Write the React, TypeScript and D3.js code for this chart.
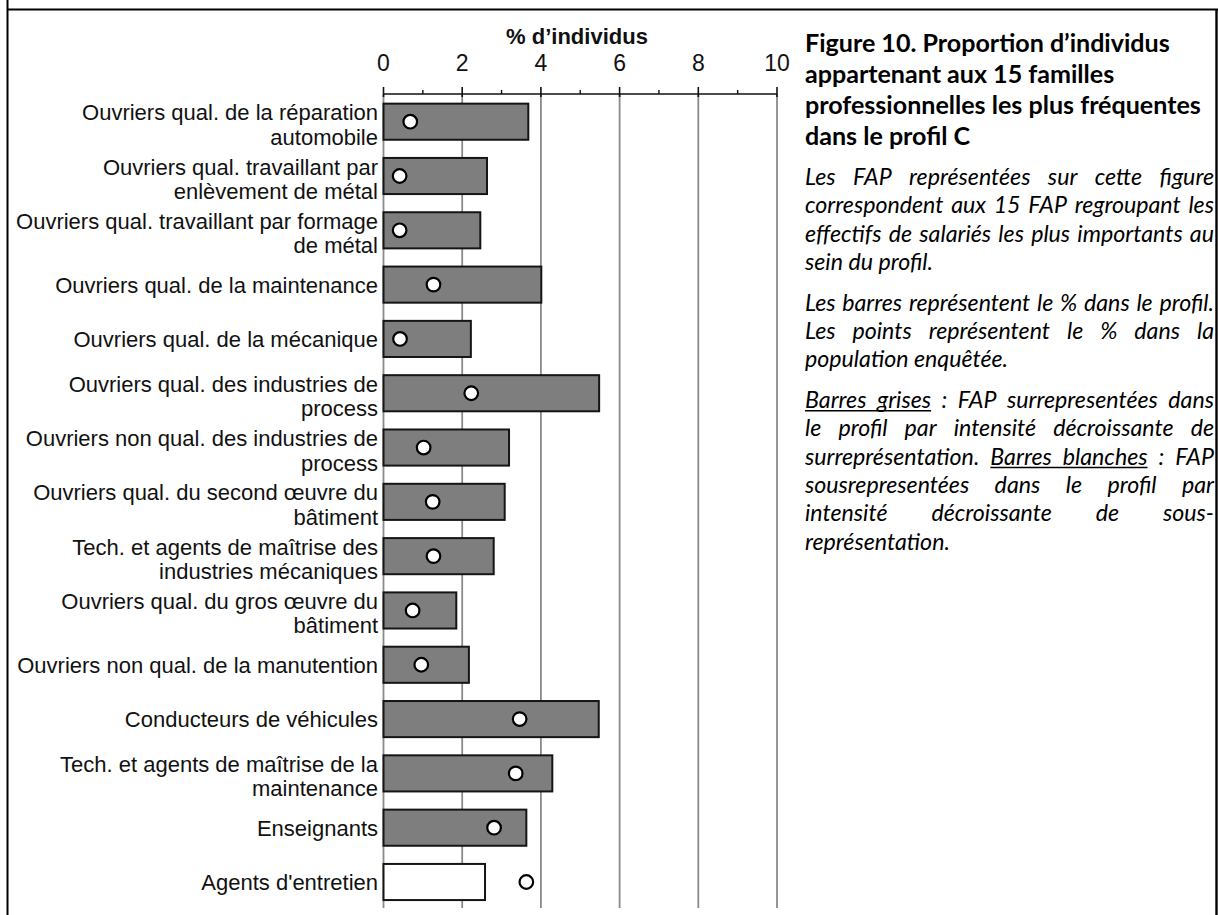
import React, { useMemo } from "react";
import * as d3 from "d3";

// ---------- DATA ----------
const categories: string[] = [
  "Ouvriers qual. de la réparation\nautomobile",
  "Ouvriers qual. travaillant par\nenlèvement de métal",
  "Ouvriers qual. travaillant par formage\nde métal",
  "Ouvriers qual. de la maintenance",
  "Ouvriers qual. de la mécanique",
  "Ouvriers qual. des industries de\nprocess",
  "Ouvriers non qual. des industries de\nprocess",
  "Ouvriers qual. du second œuvre du\nbâtiment",
  "Tech. et agents de maîtrise des\nindustries mécaniques",
  "Ouvriers qual. du gros œuvre du\nbâtiment",
  "Ouvriers non qual. de la manutention",
  "Conducteurs de véhicules",
  "Tech. et agents de maîtrise de la\nmaintenance",
  "Enseignants",
  "Agents d'entretien",
];
const profileShare: number[] = [3.68, 2.63, 2.46, 4.01, 2.22, 5.48, 3.19, 3.08, 2.8, 1.85, 2.17, 5.47, 4.29, 3.63, 2.58];
const populationShare: number[] = [0.68, 0.41, 0.41, 1.27, 0.42, 2.23, 1.02, 1.25, 1.27, 0.74, 0.96, 3.46, 3.36, 2.81, 3.63];
const overRepresented: boolean[] = [true, true, true, true, true, true, true, true, true, true, true, true, true, true, false];
const majorTicks: number[] = [0, 2, 4, 6, 8, 10];
const minorTicks: number[] = [1, 3, 5, 7, 9];
const axisTitle = "% d’individus";

const titleLines: string[] = [
  "Figure 10. Proportion d’individus",
  "appartenant aux 15 familles",
  "professionnelles les plus fréquentes",
  "dans le profil C",
];

type BodyLine = { text: string; justify: boolean; underline?: [number, number][] };
const bodyParagraphs: BodyLine[][] = [
  [
    { text: "Les FAP représentées sur cette figure", justify: true },
    { text: "correspondent aux 15 FAP regroupant les", justify: true },
    { text: "effectifs de salariés les plus importants au", justify: true },
    { text: "sein du profil.", justify: false },
  ],
  [
    { text: "Les barres représentent le % dans le profil.", justify: true },
    { text: "Les points représentent le % dans la", justify: true },
    { text: "population enquêtée.", justify: false },
  ],
  [
    { text: "Barres grises :  FAP surrepresentées dans", justify: true, underline: [[0, 1]] },
    { text: "le profil par intensité décroissante de", justify: true },
    { text: "surreprésentation. Barres blanches : FAP", justify: true, underline: [[1, 2]] },
    { text: "sousrepresentées dans le profil par", justify: true },
    { text: "intensité décroissante de sous-", justify: true },
    { text: "représentation.", justify: false },
  ],
];

// ---------- LAYOUT ----------
const W = 1218;
const H = 915;
const x0 = 383.5;
const x1 = 777;
const axisY = 94;
const firstCenter = 121.7;
const lastCenter = 882;
const gridBottom = 908;
const labelFont = "'Liberation Sans', Arial, Helvetica, sans-serif";
const labelSize = 22;
const textFont = "Lato, 'Open Sans', sans-serif";
const panelLeft = 805;
const panelRight = 1214;

function useMeasure() {
  return useMemo(() => {
    const ctx = document.createElement("canvas").getContext("2d")!;
    return (text: string, font: string) => {
      ctx.font = font;
      return ctx.measureText(text).width;
    };
  }, []);
}

export default function App() {
  const measure = useMeasure();

  const x = d3.scaleLinear().domain([0, 10]).range([x0, x1]);
  const y = d3.scalePoint<string>().domain(categories).range([firstCenter, lastCenter]);
  const step = y.step();
  const barH = step * 0.665;

  // font sizes fitted to the reference widths
  const titleSize = (100 * 396) / measure(titleLines[2], `bold 100px ${textFont}`);
  const bodySize =
    ((100 * 203) / measure("population enquêtée.", `italic 100px ${textFont}`) +
      (100 * 128) / measure("sein du profil.", `italic 100px ${textFont}`)) /
    2;
  const bodyFontCss = `italic ${bodySize}px ${textFont}`;

  const titleBase = 52;
  const titleLH = 31;
  const bodyLH = 28.4;
  const paraGap = 12;

  const bodyEls: React.ReactNode[] = [];
  let by = 185;
  bodyParagraphs.forEach((para, pi) => {
    if (pi > 0) by += paraGap;
    para.forEach((line, li) => {
      const words = line.text.split(" ").filter((w) => w.length > 0);
      const widths = words.map((w) => measure(w, bodyFontCss));
      const spaceW = measure(" ", bodyFontCss);
      const total = widths.reduce((a, b) => a + b, 0);
      const gap = line.justify && words.length > 1 ? (panelRight - panelLeft - total) / (words.length - 1) : spaceW;
      const xs: number[] = [];
      let cx = panelLeft;
      words.forEach((w, i) => {
        xs.push(cx);
        cx += widths[i] + gap;
      });
      const baseline = by;
      words.forEach((w, i) => {
        bodyEls.push(
          <text
            key={`b-${pi}-${li}-${i}`}
            x={xs[i]}
            y={baseline}
            fontFamily={textFont}
            fontStyle="italic"
            fontSize={bodySize}
            fill="#000"
          >
            {w}
          </text>
        );
      });
      (line.underline || []).forEach(([a, b], ui) => {
        bodyEls.push(
          <line
            key={`u-${pi}-${li}-${ui}`}
            x1={xs[a]}
            x2={xs[b] + widths[b]}
            y1={baseline + 3}
            y2={baseline + 3}
            stroke="#000"
            strokeWidth={1.5}
          />
        );
      });
      by += bodyLH;
    });
  });

  return (
    <svg
      width={W}
      height={H}
      viewBox={`0 0 ${W} ${H}`}
      style={{ position: "absolute", left: 0, top: 0, background: "#fff" }}
    >
      <rect x={0} y={0} width={W} height={H} fill="#fff" />

      {/* frame */}
      <line x1={7.5} x2={7.5} y1={0} y2={H} stroke="#000" strokeWidth={2} />
      <line x1={7} x2={1218} y1={9.5} y2={9.5} stroke="#000" strokeWidth={2.2} />
      <line x1={1216.5} x2={1216.5} y1={9} y2={H} stroke="#000" strokeWidth={2.4} />

      {/* grid lines */}
      {majorTicks.map((t) => (
        <line key={`g${t}`} x1={x(t)} x2={x(t)} y1={axisY} y2={gridBottom} stroke="#8a8a8a" strokeWidth={1.8} />
      ))}

      {/* top axis */}
      <line x1={x(0)} x2={x(10)} y1={axisY} y2={axisY} stroke="#111" strokeWidth={1.6} />
      {majorTicks.map((t) => (
        <line key={`M${t}`} x1={x(t)} x2={x(t)} y1={axisY - 7} y2={axisY + 3} stroke="#111" strokeWidth={1.6} />
      ))}
      {minorTicks.map((t) => (
        <line key={`m${t}`} x1={x(t)} x2={x(t)} y1={axisY - 4} y2={axisY} stroke="#111" strokeWidth={1.4} />
      ))}
      {majorTicks.map((t) => (
        <text key={`tl${t}`} x={x(t)} y={71} textAnchor="middle" fontFamily={labelFont} fontSize={23} fill="#111">
          {t}
        </text>
      ))}
      <text x={577} y={44} textAnchor="middle" fontFamily={labelFont} fontWeight="bold" fontSize={22} fill="#111">
        {axisTitle}
      </text>

      {/* bars */}
      {categories.map((c, i) => (
        <rect
          key={`bar${i}`}
          x={x(0)}
          y={(y(c) as number) - barH / 2}
          width={x(profileShare[i]) - x(0)}
          height={barH}
          fill={overRepresented[i] ? "#7e7e7e" : "#ffffff"}
          stroke="#151515"
          strokeWidth={2}
        />
      ))}

      {/* dots */}
      {categories.map((c, i) => (
        <circle
          key={`dot${i}`}
          cx={x(populationShare[i])}
          cy={y(c) as number}
          r={6.8}
          fill="#fff"
          stroke="#000"
          strokeWidth={2.2}
        />
      ))}

      {/* category labels */}
      {categories.map((c, i) => {
        const lines = c.split("\n");
        const cy = y(c) as number;
        return (
          <g key={`lab${i}`}>
            {lines.length === 1 ? (
              <text x={378} y={cy + 8} textAnchor="end" fontFamily={labelFont} fontSize={labelSize} fill="#111">
                {lines[0]}
              </text>
            ) : (
              lines.map((l, j) => (
                <text
                  key={j}
                  x={378}
                  y={cy - 1.5 + j * 24.5}
                  textAnchor="end"
                  fontFamily={labelFont}
                  fontSize={labelSize}
                  fill="#111"
                >
                  {l}
                </text>
              ))
            )}
          </g>
        );
      })}

      {/* right panel title */}
      {titleLines.map((l, i) => (
        <text
          key={`t${i}`}
          x={panelLeft}
          y={titleBase + i * titleLH}
          fontFamily={textFont}
          fontWeight="bold"
          fontSize={titleSize}
          fill="#000"
        >
          {l}
        </text>
      ))}

      {bodyEls}
    </svg>
  );
}
